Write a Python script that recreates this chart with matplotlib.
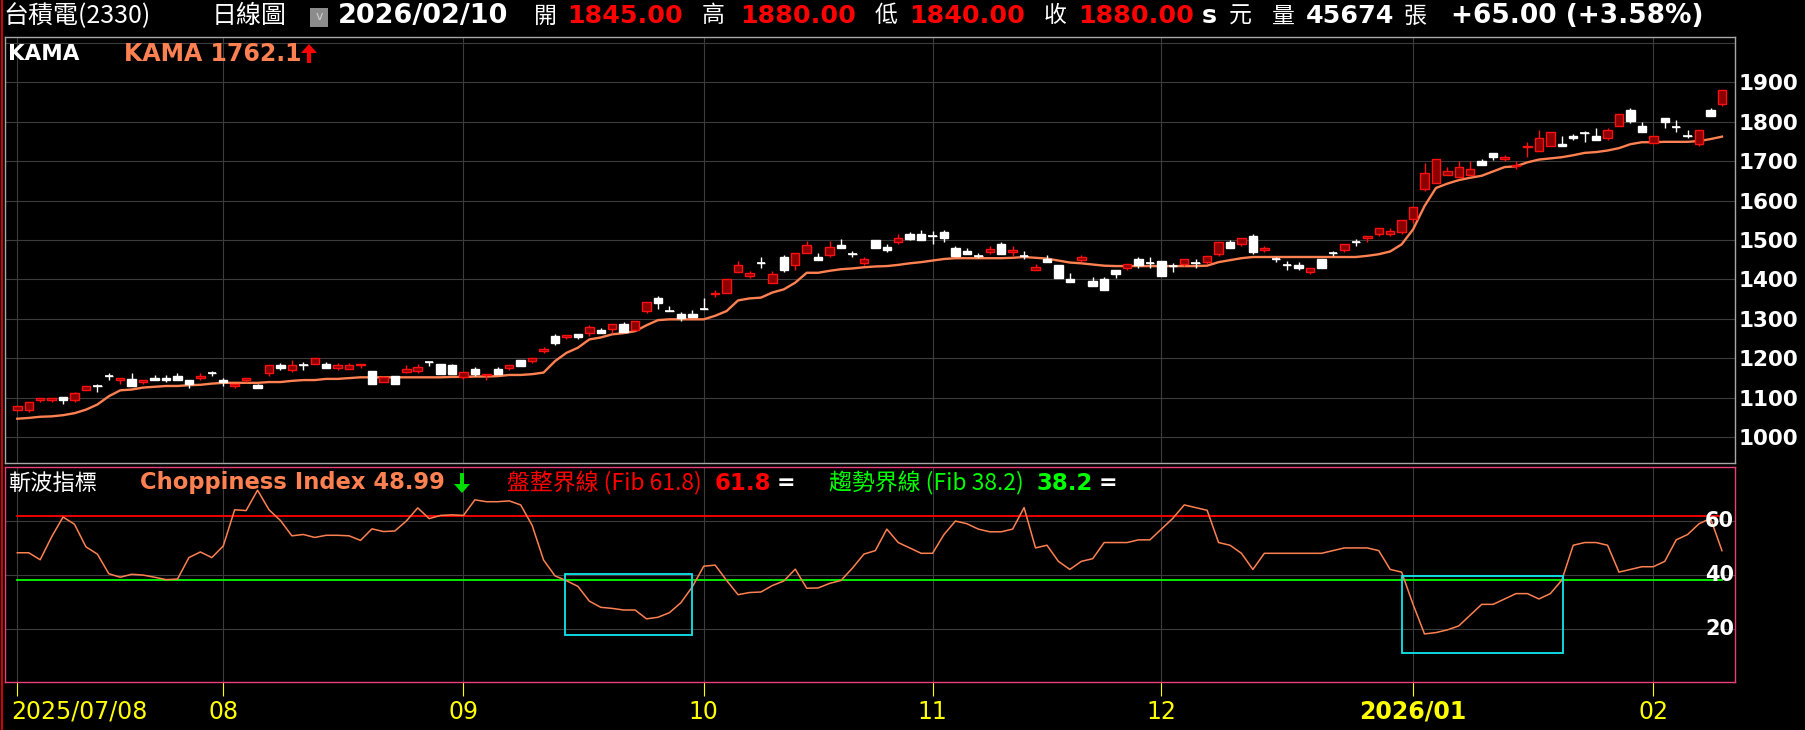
import numpy as np
import matplotlib
matplotlib.use('Agg')
import matplotlib.pyplot as plt
from matplotlib.patches import Rectangle, Polygon
from matplotlib.lines import Line2D
from matplotlib.transforms import blended_transform_factory

plt.rcParams['font.family'] = ['DejaVu Sans', 'Noto Sans CJK TC']

W, H = 1806, 730

# 2330 daily candles, 2025/07/08 .. 2026/02/10
apertura = [1068, 1068, 1094, 1094, 1101, 1094, 1120, 1130, 1156, 1145,
            1147, 1140, 1151, 1151, 1156, 1146, 1150, 1163, 1146, 1130,
            1145, 1132, 1162, 1182, 1171, 1182, 1187, 1187, 1176, 1172,
            1182, 1167, 1141, 1156, 1166, 1167, 1190, 1187, 1182, 1153,
            1172, 1157, 1172, 1176, 1195, 1194, 1219, 1256, 1255, 1261,
            1265, 1271, 1275, 1286, 1272, 1320, 1352, 1321, 1312, 1312,
            1326, 1362, 1367, 1420, 1409, 1443, 1390, 1457, 1436, 1466,
            1456, 1461, 1487, 1464, 1441, 1501, 1482, 1495, 1516, 1516,
            1510, 1520, 1481, 1471, 1460, 1470, 1491, 1470, 1460, 1425,
            1451, 1436, 1401, 1450, 1396, 1401, 1425, 1430, 1451, 1441,
            1446, 1433, 1439, 1443, 1445, 1465, 1496, 1490, 1511, 1475,
            1452, 1436, 1436, 1420, 1453, 1466, 1475, 1495, 1505, 1516,
            1515, 1520, 1553, 1630, 1645, 1664, 1660, 1664, 1700, 1721,
            1706, 1687, 1737, 1726, 1738, 1744, 1764, 1771, 1764, 1758,
            1789, 1830, 1790, 1747, 1810, 1786, 1764, 1743, 1829, 1845]
maximo = [1080, 1090, 1100, 1100, 1101, 1116, 1131, 1136, 1162, 1151,
          1162, 1146, 1157, 1157, 1162, 1146, 1162, 1168, 1151, 1136,
          1151, 1136, 1182, 1188, 1195, 1191, 1200, 1191, 1188, 1188,
          1187, 1167, 1156, 1156, 1182, 1187, 1190, 1187, 1187, 1166,
          1177, 1161, 1177, 1182, 1195, 1200, 1230, 1261, 1260, 1261,
          1285, 1276, 1286, 1291, 1296, 1342, 1358, 1332, 1317, 1322,
          1353, 1373, 1400, 1446, 1421, 1456, 1421, 1462, 1466, 1497,
          1467, 1497, 1502, 1471, 1456, 1501, 1490, 1515, 1521, 1526,
          1522, 1525, 1485, 1481, 1466, 1485, 1496, 1486, 1471, 1440,
          1461, 1436, 1416, 1461, 1406, 1406, 1425, 1440, 1456, 1456,
          1446, 1441, 1451, 1451, 1460, 1495, 1501, 1505, 1516, 1486,
          1458, 1446, 1445, 1430, 1453, 1472, 1491, 1502, 1511, 1531,
          1531, 1551, 1584, 1695, 1706, 1685, 1700, 1700, 1706, 1721,
          1716, 1700, 1749, 1779, 1774, 1763, 1769, 1776, 1784, 1784,
          1819, 1835, 1800, 1764, 1810, 1805, 1779, 1779, 1834, 1880]
minimo = [1066, 1063, 1089, 1089, 1084, 1089, 1120, 1115, 1145, 1134,
          1130, 1136, 1145, 1140, 1145, 1125, 1145, 1156, 1130, 1125,
          1140, 1125, 1156, 1171, 1166, 1171, 1187, 1176, 1171, 1172,
          1176, 1135, 1141, 1135, 1162, 1162, 1181, 1160, 1160, 1147,
          1155, 1145, 1160, 1170, 1181, 1188, 1214, 1233, 1249, 1249,
          1258, 1264, 1265, 1267, 1272, 1314, 1326, 1321, 1295, 1305,
          1326, 1356, 1367, 1420, 1404, 1430, 1390, 1420, 1425, 1466,
          1450, 1456, 1481, 1456, 1436, 1479, 1469, 1489, 1499, 1499,
          1489, 1494, 1459, 1464, 1455, 1464, 1464, 1460, 1453, 1425,
          1444, 1404, 1394, 1444, 1384, 1374, 1404, 1424, 1430, 1430,
          1409, 1419, 1434, 1430, 1439, 1459, 1479, 1484, 1464, 1470,
          1444, 1425, 1424, 1414, 1429, 1459, 1470, 1484, 1495, 1510,
          1510, 1515, 1544, 1624, 1645, 1664, 1660, 1664, 1690, 1704,
          1701, 1680, 1710, 1726, 1738, 1738, 1753, 1748, 1753, 1753,
          1789, 1798, 1773, 1747, 1783, 1774, 1758, 1738, 1814, 1840]
cierre = [1080, 1090, 1100, 1100, 1094, 1111, 1131, 1130, 1156, 1151,
          1130, 1146, 1145, 1145, 1145, 1134, 1156, 1163, 1140, 1136,
          1151, 1125, 1182, 1176, 1182, 1182, 1200, 1176, 1182, 1182,
          1187, 1135, 1152, 1135, 1172, 1177, 1190, 1160, 1160, 1166,
          1160, 1161, 1160, 1182, 1181, 1200, 1225, 1239, 1260, 1254,
          1280, 1264, 1286, 1267, 1296, 1342, 1341, 1321, 1303, 1305,
          1326, 1367, 1400, 1436, 1416, 1443, 1415, 1425, 1466, 1487,
          1450, 1482, 1481, 1464, 1451, 1479, 1474, 1506, 1503, 1499,
          1510, 1504, 1459, 1464, 1460, 1477, 1464, 1476, 1460, 1431,
          1444, 1404, 1394, 1456, 1384, 1374, 1413, 1440, 1436, 1441,
          1409, 1433, 1451, 1443, 1460, 1495, 1479, 1505, 1469, 1481,
          1452, 1436, 1429, 1430, 1429, 1466, 1491, 1495, 1511, 1531,
          1522, 1551, 1584, 1670, 1706, 1676, 1685, 1680, 1690, 1710,
          1711, 1690, 1739, 1759, 1774, 1738, 1758, 1771, 1753, 1779,
          1819, 1803, 1773, 1764, 1799, 1786, 1764, 1779, 1814, 1880]
kama = [1047, 1049, 1052, 1053, 1056, 1061, 1070, 1083, 1104, 1119,
        1121, 1126, 1128, 1130, 1130, 1132, 1133, 1136, 1138, 1138,
        1138, 1138, 1140, 1140, 1143, 1145, 1145, 1148, 1148, 1150,
        1152, 1152, 1152, 1152, 1152, 1152, 1152, 1152, 1153, 1153,
        1154, 1154, 1155, 1158, 1158, 1160, 1164, 1193, 1214, 1227,
        1248, 1253, 1261, 1264, 1269, 1284, 1297, 1299, 1299, 1299,
        1299, 1308, 1320, 1347, 1352, 1354, 1367, 1375, 1392, 1417,
        1417, 1422, 1426, 1428, 1431, 1433, 1434, 1437, 1441, 1444,
        1448, 1452, 1454, 1454, 1454, 1454, 1454, 1455, 1457, 1455,
        1453, 1448, 1443, 1441, 1438, 1435, 1434, 1434, 1434, 1434,
        1434, 1434, 1434, 1434, 1435, 1444, 1449, 1454, 1457, 1457,
        1457, 1457, 1457, 1457, 1457, 1457, 1457, 1457, 1460, 1464,
        1471, 1489, 1527, 1586, 1632, 1643, 1652, 1658, 1663, 1674,
        1685, 1687, 1697, 1704, 1707, 1710, 1715, 1721, 1723, 1727,
        1733, 1743, 1748, 1748, 1749, 1749, 1749, 1751, 1756, 1762.1]
chop = [48.2, 48.2, 45.6, 54.1, 61.5, 58.8, 50.4, 47.7, 40.4, 39.1,
        40.2, 39.9, 39.1, 38.2, 38.4, 46.4, 48.5, 46.4, 50.7, 64.2,
        63.9, 71.5, 64.2, 60.2, 54.5, 55.0, 53.9, 54.7, 54.7, 54.5,
        52.8, 57.1, 56.1, 56.3, 60.0, 64.9, 60.9, 62.1, 62.3, 62.1,
        67.9, 67.2, 67.2, 67.5, 66.0, 58.4, 45.5, 39.6, 37.8, 35.7,
        30.2, 27.9, 27.5, 26.9, 26.9, 23.6, 24.2, 25.9, 29.6, 35.5,
        43.2, 43.6, 37.9, 32.6, 33.4, 33.6, 36.0, 37.7, 42.1, 35.0,
        35.1, 36.8, 37.9, 42.5, 47.7, 49.0, 57.0, 52.0, 50.0, 48.0,
        48.0, 55.0, 60.0, 59.0, 57.0, 56.0, 56.0, 57.0, 65.0, 50.0,
        51.0, 45.0, 42.0, 45.0, 46.0, 52.0, 52.0, 52.0, 53.0, 53.0,
        57.0, 61.0, 66.0, 65.0, 64.0, 52.0, 51.0, 48.0, 42.0, 48.0,
        48.0, 48.0, 48.0, 48.0, 48.0, 49.0, 50.0, 50.0, 50.0, 49.0,
        42.0, 41.0, 29.0, 18.0, 18.5, 19.5, 21.0, 25.0, 29.0, 29.0,
        31.0, 33.0, 33.0, 31.0, 33.0, 38.0, 51.0, 52.0, 52.0, 51.0,
        41.0, 42.0, 43.0, 43.0, 45.0, 53.0, 55.0, 59.0, 61.0, 48.99]

indices_mes = [0, 18, 39, 60, 80, 100, 122, 143]
etiquetas_mes = ['2025/07/08', '08', '09', '10', '11', '12', '2026/01', '02']
ticks_precio = [1000, 1100, 1200, 1300, 1400, 1500, 1600, 1700, 1800, 1900]
grid_precio = [1000, 1100, 1200, 1300, 1400, 1500, 1600, 1700, 1800, 1900, 2000]
ticks_chop = [20, 40, 60]
nivel_rango = 61.8
nivel_tendencia = 38.2
# (x0, x1, y0, y1) marked zones on the CI panel
zonas = [(47.9, 59.0, 17.5, 40.4), (121.0, 135.1, 10.8, 39.5)]

NARANJA = '#ff8050'
GRIS = '#3c3c3c'
ROSA = '#e8407c'


def caja(x0, y0, x1, y1):
    return [x0 / W, 1 - y1 / H, (x1 - x0) / W, (y1 - y0) / H]


def texto(x, y, s, **kw):
    fig.text(x / W, 1 - y / H, s, va='center', ha='left', **kw)


def flecha(cx, y_punta, y_cola, color, hw=16, hl=9, sw=4):
    # solid arrow in pixel coordinates, tip at y_punta
    d = 1 if y_cola > y_punta else -1
    yb = y_punta + d * hl
    pts = [(cx, y_punta), (cx + hw / 2, yb), (cx + sw / 2, yb), (cx + sw / 2, y_cola),
           (cx - sw / 2, y_cola), (cx - sw / 2, yb), (cx - hw / 2, yb)]
    pts = [(px / W, 1 - py / H) for px, py in pts]
    fig.patches.append(Polygon(pts, closed=True, transform=fig.transFigure,
                               facecolor=color, edgecolor='none'))


fig = plt.figure(figsize=(W / 100, H / 100), dpi=100, facecolor='black')

ax1 = fig.add_axes(caja(5, 37.3, 1735, 463.3))
ax2 = fig.add_axes(caja(5, 467.3, 1735, 682.3), sharex=ax1)

x = np.arange(len(cierre))
o = np.array(apertura, float)
c = np.array(cierre, float)
h = np.array(maximo, float)
l = np.array(minimo, float)

for ax in (ax1, ax2):
    ax.set_facecolor('black')
    for i in indices_mes:
        ax.axvline(i, color=GRIS, lw=0.8, zorder=0)
ax1.set_xlim(-1.075, 150.14)

for y in grid_precio:
    ax1.axhline(y, color=GRIS, lw=0.8, zorder=0)
for y in ticks_chop:
    ax2.axhline(y, color=GRIS, lw=0.8, zorder=0)

# KAMA
ax1.plot(x, kama, color=NARANJA, lw=1.7, zorder=2)

# candles: red = up, white = down
ancho = 0.74
sube = c > o
for m, cara, borde in [(sube, '#8b0000', '#ff1010'), (~sube, 'white', 'white')]:
    ax1.vlines(x[m], l[m], h[m], color=borde, lw=1.0, zorder=3)
    ax1.bar(x[m], np.abs(c - o)[m], width=ancho, bottom=np.minimum(o, c)[m],
            color=cara, edgecolor=borde, linewidth=1.0, zorder=4)
doji = c == o
ax1.hlines(c[doji], x[doji] - ancho / 2, x[doji] + ancho / 2, color='white', lw=1.2, zorder=4)

ax1.set_ylim(934, 2014)
ax1.set_yticks(ticks_precio)
ax1.yaxis.tick_right()
ax1.tick_params(axis='y', length=0, pad=2.8, labelcolor='white', labelsize=15.5)
for t in ax1.get_yticklabels():
    t.set_fontweight('bold')
ax1.tick_params(axis='x', length=0, labelbottom=False)
for s in ax1.spines.values():
    s.set_color('#a8a8a8')
    s.set_linewidth(1.0)

# Choppiness Index
ax2.plot([x[0], x[-1]], [nivel_rango] * 2, color='#ff0000', lw=1.3, zorder=2)
ax2.plot([x[0], x[-1]], [nivel_tendencia] * 2, color='#00ff00', lw=1.3, zorder=2)
ax2.plot(x, chop, color=NARANJA, lw=1.1, zorder=3)
for x0, x1, y0, y1 in zonas:
    ax2.add_patch(Rectangle((x0, y0), x1 - x0, y1 - y0, fill=False,
                            edgecolor='#10e8f0', lw=1.3, zorder=4))
ax2.set_ylim(0, 80)
ax2.set_yticks([])
tr = blended_transform_factory(ax2.transAxes, ax2.transData)
for v in ticks_chop:
    ax2.text(0.9995, v, str(v), transform=tr, ha='right', va='center',
             color='white', fontsize=15, fontweight='bold', zorder=5)
for s in ax2.spines.values():
    s.set_color(ROSA)
    s.set_linewidth(1.0)

ax2.set_xticks(indices_mes)
ax2.tick_params(axis='x', length=10, width=0.8, color='#ffff00', direction='out', labelbottom=False)
trx = blended_transform_factory(ax2.transData, ax2.transAxes)
for i, lab in zip(indices_mes, etiquetas_mes):
    if lab.startswith('2025'):
        ax2.text(-0.55, -0.138, lab, transform=trx, ha='left', va='center', color='#ffff00', fontsize=17)
    else:
        ax2.text(i, -0.138, lab, transform=trx, ha='center', va='center', color='#ffff00',
                 fontsize=17, fontweight='bold' if lab.startswith('2026') else 'normal')

# header line
cjk = ['Noto Sans CJK TC', 'DejaVu Sans']
texto(3, 16, '台積電(2330)', color='white', fontsize=18, family=cjk)
texto(212, 16, '日線圖', color='white', fontsize=18, family=cjk)
fig.patches.append(Rectangle((310 / W, 1 - 27 / H), 18 / W, 19 / H, transform=fig.transFigure,
                             facecolor='#8c8c8c', edgecolor='none'))
fig.text(319 / W, 1 - 16 / H, 'v', color='#d0d0d0', fontsize=9, ha='center', va='center')
texto(338, 16, '2026/02/10', color='white', fontsize=19.5, fontweight='bold')
texto(534, 16, '開', color='white', fontsize=16.5, family=cjk)
texto(567, 16, '1845.00', color='#ff0000', fontsize=18.3, fontweight='bold')
texto(702, 16, '高', color='white', fontsize=16.5, family=cjk)
texto(740, 16, '1880.00', color='#ff0000', fontsize=18.3, fontweight='bold')
texto(875, 16, '低', color='white', fontsize=16.5, family=cjk)
texto(909, 16, '1840.00', color='#ff0000', fontsize=18.3, fontweight='bold')
texto(1044, 16, '收', color='white', fontsize=16.5, family=cjk)
texto(1078, 16, '1880.00', color='#ff0000', fontsize=18.3, fontweight='bold')
texto(1202, 16, 's', color='white', fontsize=18.3, fontweight='bold')
texto(1229, 16, '元', color='white', fontsize=16.5, family=cjk)
texto(1272, 16, '量', color='white', fontsize=16.5, family=cjk)
texto(1306, 16, '45674', color='white', fontsize=18.3, fontweight='bold')
texto(1404, 16, '張', color='white', fontsize=16.5, family=cjk)
texto(1451, 16, '+65.00 (+3.58%)', color='white', fontsize=19, fontweight='bold')

# panel legends
texto(8, 54, 'KAMA', color='white', fontsize=15.5, fontweight='bold')
texto(124, 54, 'KAMA 1762.1', color=NARANJA, fontsize=17, fontweight='bold')
flecha(309, 44, 63, '#ff0000')

texto(8, 483, '斬波指標', color='white', fontsize=16, family=cjk)
texto(140, 483, 'Choppiness Index 48.99', color=NARANJA, fontsize=16.3, fontweight='bold')
flecha(462, 493, 473, '#00dd00')
texto(507, 483, '盤整界線 (Fib 61.8)', color='#ff0000', fontsize=16.5, family=cjk)
texto(715, 483, '61.8', color='#ff0000', fontsize=16.5, fontweight='bold')
texto(777, 483, '=', color='white', fontsize=16, fontweight='bold')
texto(829, 483, '趨勢界線 (Fib 38.2)', color='#00ff00', fontsize=16.5, family=cjk)
texto(1036, 483, '38.2', color='#00ff00', fontsize=16.5, fontweight='bold')
texto(1099, 483, '=', color='white', fontsize=16, fontweight='bold')

fig.add_artist(Line2D([2 / W, 2 / W], [0, 1], color='#ff0000', lw=1.2))

fig.savefig('out.png', dpi=100, facecolor='black')
